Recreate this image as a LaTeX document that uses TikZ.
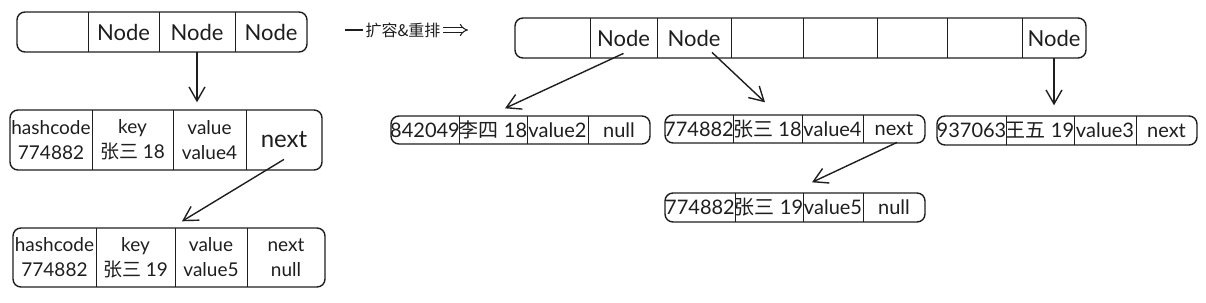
\documentclass[tikz,border=0pt]{standalone}
\usepackage{fontspec}
\setmainfont{Lato}
\newfontfamily\cjk{Noto Sans CJK SC}
\usepackage{tikz}
\usetikzlibrary{arrows.meta,positioning,fit}
\definecolor{inkgray}{HTML}{1E1E1E}

\begin{document}
\begin{tikzpicture}[x=0.5pt, y=-0.5pt,
    entry/.style={draw=inkgray, line width=0.7pt, rounded corners=4pt, inner sep=0pt},
    cell/.style={inner sep=0pt},
    txt/.style={inner sep=0pt, align=center, text=inkgray, font=\fontsize{9.5}{12.5}\selectfont},
    big/.style={txt, font=\fontsize{11}{13}\selectfont},
    mid/.style={txt, font=\fontsize{10}{12}\selectfont},
    divider/.style={draw=inkgray, line width=0.7pt},
    arrow/.style={-{Straight Barb[length=7pt,width=8pt]}, line width=0.7pt, color=inkgray},
]
    \useasboundingbox (0,0) rectangle (1206,302);

    % old table
    \node[entry, fit={(17,12) (307,52)}] (la) {};
    \node[cell, fit={(17,12) (88,52)}] (la1) {};
    \node[cell, fit={(88,12) (159,52)}, label={[big]center:Node}] (la2) {};
    \node[cell, fit={(159,12) (235,52)}, label={[big]center:Node}] (la3) {};
    \node[cell, fit={(235,12) (307,52)}, label={[big]center:Node}] (la4) {};
    \foreach \i in {1,2,3}
        \draw[divider] (la\i.north east) -- (la\i.south east);

    \node[entry, fit={(10,110) (322,170)}] (le1) {};
    \node[cell, fit={(10,110) (92,170)}, label={[txt]center:{hashcode\\774882}}] (le1a) {};
    \node[cell, fit={(92,110) (173,170)}, label={[txt]center:{key\\{\cjk 张三} 18}}] (le1b) {};
    \node[cell, fit={(173,110) (246,170)}, label={[txt]center:{value\\value4}}] (le1c) {};
    \node[cell, fit={(246,110) (322,170)}, label={[txt, font=\fontsize{12}{14}\selectfont]center:next}] (le1d) {};

    \node[entry, fit={(13,228) (325,287)}] (le2) {};
    \node[cell, fit={(13,228) (96,287)}, label={[txt]center:{hashcode\\774882}}] (le2a) {};
    \node[cell, fit={(96,228) (175,287)}, label={[txt]center:{key\\{\cjk 张三} 19}}] (le2b) {};
    \node[cell, fit={(175,228) (247,287)}, label={[txt]center:{value\\value5}}] (le2c) {};
    \node[cell, fit={(247,228) (325,287)}, label={[txt]center:{next\\null}}] (le2d) {};
    \foreach \r in {le1,le2}
        \foreach \c in {a,b,c}
            \draw[divider] (\r\c.north east) -- (\r\c.south east);

    \draw[arrow, shorten >=3.5pt] (la3.south) -- (la3.south |- le1.north);
    \draw[arrow] ([yshift=5.5pt]le1d.south) -- ([xshift=6.5pt,yshift=3pt]le2.north);

    % resize label
    \coordinate (ls) at (345,30);
    \node[font=\fontsize{8}{9}\selectfont\cjk, text=inkgray, inner sep=1pt] (lbl) at (403,30) {扩容\&重排};
    \coordinate (le) at (468,30);
    \draw[inkgray, line width=0.7pt] (ls) -- (lbl.west);
    \draw[inkgray, line width=0.5pt, double, double distance=1.6pt, -{Implies}] (lbl.east) -- (le);

    % new table
    \node[entry, fit={(515,18) (1086,58)}] (ra) {};
    \node[cell, fit={(515,18) (590,58)}] (ra1) {};
    \node[cell, fit={(590,18) (657,58)}, label={[big]center:Node}] (ra2) {};
    \node[cell, fit={(657,18) (731,58)}, label={[big]center:Node}] (ra3) {};
    \node[cell, fit={(731,18) (803,58)}] (ra4) {};
    \node[cell, fit={(803,18) (877,58)}] (ra5) {};
    \node[cell, fit={(877,18) (947,58)}] (ra6) {};
    \node[cell, fit={(947,18) (1022,58)}] (ra7) {};
    \node[cell, fit={(1022,18) (1086,58)}, label={[big]center:Node}] (ra8) {};
    \foreach \i in {1,...,7}
        \draw[divider] (ra\i.north east) -- (ra\i.south east);

    \node[entry, fit={(391,116) (650,144)}] (ea) {};
    \node[cell, fit={(391,116) (459,144)}, label={[mid]center:842049}] (ea1) {};
    \node[cell, fit={(459,116) (527,144)}, label={[mid]center:{{\cjk 李四} 18}}] (ea2) {};
    \node[cell, fit={(527,116) (588,144)}, label={[mid]center:value2}] (ea3) {};
    \node[cell, fit={(588,116) (650,144)}, label={[mid]center:null}] (ea4) {};

    \node[entry, fit={(665,115) (925,143)}] (eb) {};
    \node[cell, fit={(665,115) (733,143)}, label={[mid]center:774882}] (eb1) {};
    \node[cell, fit={(733,115) (802,143)}, label={[mid]center:{{\cjk 张三} 18}}] (eb2) {};
    \node[cell, fit={(802,115) (863,143)}, label={[mid]center:value4}] (eb3) {};
    \node[cell, fit={(863,115) (925,143)}, label={[mid]center:next}] (eb4) {};

    \node[entry, fit={(937,116) (1197,145)}] (ec) {};
    \node[cell, fit={(937,116) (1006,145)}, label={[mid]center:937063}] (ec1) {};
    \node[cell, fit={(1006,116) (1074,145)}, label={[mid]center:{{\cjk 王五} 19}}] (ec2) {};
    \node[cell, fit={(1074,116) (1136,145)}, label={[mid]center:value3}] (ec3) {};
    \node[cell, fit={(1136,116) (1197,145)}, label={[mid]center:next}] (ec4) {};

    \node[entry, fit={(665,193) (925,222)}] (ed) {};
    \node[cell, fit={(665,193) (735,222)}, label={[mid]center:774882}] (ed1) {};
    \node[cell, fit={(735,193) (803,222)}, label={[mid]center:{{\cjk 张三} 19}}] (ed2) {};
    \node[cell, fit={(803,193) (863,222)}, label={[mid]center:value5}] (ed3) {};
    \node[cell, fit={(863,193) (925,222)}, label={[mid]center:null}] (ed4) {};
    \foreach \r in {ea,eb,ec,ed}
        \foreach \i in {1,2,3}
            \draw[divider] (\r\i.north east) -- (\r\i.south east);

    \draw[arrow] ([yshift=2.5pt]ra2.south) -- ([xshift=-7.75pt,yshift=3.5pt]ea.north);
    \draw[arrow] ([xshift=9pt,yshift=3pt]ra3.south) -- ([xshift=-15pt,yshift=6pt]eb.north);
    \draw[arrow, shorten >=5pt] (ra8.south) -- (ra8.south |- ec.north);
    \draw[arrow] ([xshift=1.5pt,yshift=0.5pt]eb4.south) -- ([xshift=8.5pt,yshift=5pt]ed.north);
\end{tikzpicture}
\end{document}
